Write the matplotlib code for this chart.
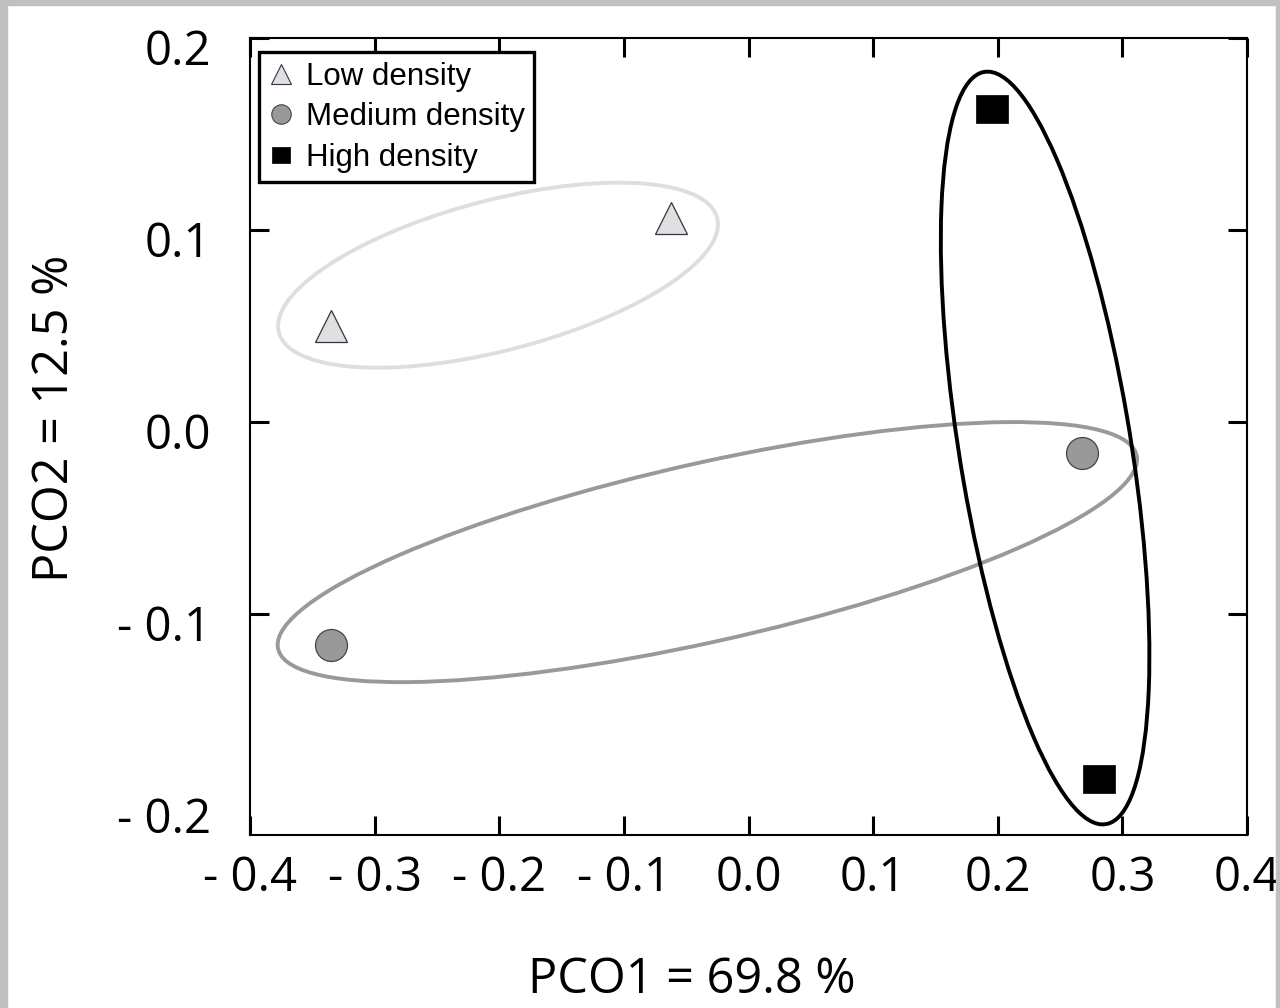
import numpy as np
import matplotlib
matplotlib.use('Agg')
import matplotlib.pyplot as plt
import matplotlib.transforms as mtransforms
from matplotlib.patches import Ellipse, Rectangle
from matplotlib.lines import Line2D

# PCO scores per density group
groups = ['Low density', 'Medium density', 'High density']

low_x = [-0.335, -0.062]
low_y = [0.050, 0.1065]
medium_x = [-0.335, 0.268]
medium_y = [-0.116, -0.016]
high_x = [0.195, 0.281]
high_y = [0.163, -0.186]

# group ellipses: centre and spread (sxx, syy, sxy) in PCO units
ellipse_cx = [-0.201, -0.033, 0.238]
ellipse_cy = [0.0765, -0.0677, -0.0135]
ellipse_sxx = [0.03115, 0.11889, 0.007004]
ellipse_syy = [0.002321, 0.004585, 0.038412]
ellipse_sxy = [0.00467, 0.016647, -0.009051]
ellipse_colors = ['#dedede', '#999999', 'black']

x_ticks = [-0.4, -0.3, -0.2, -0.1, 0.0, 0.1, 0.2, 0.3, 0.4]
x_ticklabels = ['- 0.4', '- 0.3', '- 0.2', '- 0.1', '0.0', '0.1', '0.2', '0.3', '0.4']
y_ticks = [-0.2, -0.1, 0.0, 0.1, 0.2]
y_ticklabels = ['- 0.2', '- 0.1', '0.0', '0.1', '0.2']

tick_font = 'Open Sans'
legend_font = 'Liberation Sans'

# slightly wide box used for the high density points
rect_marker = [(-1, -0.85), (1, -0.85), (1, 0.85), (-1, 0.85), (-1, -0.85)]

fig = plt.figure(figsize=(12.8, 10.08), dpi=100)
fig.patch.set_facecolor('white')
ax = fig.add_axes([250 / 1280, 1 - 835 / 1008, 997 / 1280, 797 / 1008])

# ellipses
for cx, cy, sxx, syy, sxy, col in zip(ellipse_cx, ellipse_cy, ellipse_sxx,
                                      ellipse_syy, ellipse_sxy, ellipse_colors):
    cov = np.array([[sxx, sxy], [sxy, syy]])
    vals, vecs = np.linalg.eigh(cov)
    angle = np.degrees(np.arctan2(vecs[1, 1], vecs[0, 1]))
    e = Ellipse((cx, cy), 2 * np.sqrt(vals[1]), 2 * np.sqrt(vals[0]), angle=angle,
                fill=False, edgecolor=col, linewidth=2.8, zorder=2)
    ax.add_patch(e)

# points
ax.plot(low_x, low_y, ls='none', marker='^', ms=23, mfc='#e0e0e0',
        mec='#333344', mew=0.9, zorder=3)
ax.plot(medium_x, medium_y, ls='none', marker='o', ms=23, mfc='#999999',
        mec='#444444', mew=0.9, zorder=3)
ax.plot(high_x, high_y, ls='none', marker=rect_marker, ms=23, mfc='black',
        mec='black', mew=0.5, zorder=3)

ax.set_xlim(-0.4, 0.4)
ax.set_ylim(-0.215, 0.2)
ax.set_xticks(x_ticks)
ax.set_xticklabels(x_ticklabels, fontfamily=tick_font)
ax.set_yticks(y_ticks)
ax.set_yticklabels(y_ticklabels, fontfamily=tick_font)

ax.tick_params(direction='in', top=True, right=True, length=14, width=2.2,
               labelsize=34)
ax.tick_params(axis='x', pad=14)
ax.tick_params(axis='y', pad=28)

# no tick mark for -0.2 (it sits above the bottom edge)
yt = ax.yaxis.get_major_ticks()
yt[0].tick1line.set_visible(False)
yt[0].tick2line.set_visible(False)

# y labels sit a little below their tick marks
shift = mtransforms.ScaledTranslation(0, -9 / 100, fig.dpi_scale_trans)
for lab in ax.get_yticklabels():
    lab.set_transform(lab.get_transform() + shift)

for sp in ax.spines.values():
    sp.set_linewidth(1.5)
    sp.set_color('black')

ax.set_xlabel('PCO1 = 69.8 %', fontfamily=tick_font, fontsize=35, va='center')
ax.xaxis.set_label_coords(442 / 997, (835 - 980) / 797)
ax.set_ylabel('PCO2 = 12.5 %', fontfamily=tick_font, fontsize=35, va='center')
ax.yaxis.set_label_coords((55 - 250) / 997, (835 - 418) / 797)

# legend
handles = [
    Line2D([], [], ls='none', marker='^', ms=14, mfc='#e0e0e0', mec='#333344', mew=0.8),
    Line2D([], [], ls='none', marker='o', ms=14, mfc='#999999', mec='#444444', mew=0.8),
    Line2D([], [], ls='none', marker=rect_marker, ms=13, mfc='black', mec='black', mew=0.5),
]
leg = ax.legend(handles, groups, loc='upper left', bbox_to_anchor=(0.009, 0.982),
                borderaxespad=0, frameon=True, fancybox=False, edgecolor='black',
                framealpha=1, prop={'family': legend_font, 'size': 22.5},
                handlelength=0.8, handletextpad=0.4, labelspacing=0.34,
                borderpad=0.3)
leg.get_frame().set_linewidth(2.4)

# light grey frame around the figure
frame_col = '#c0c0c0'
fig.add_artist(Rectangle((0, 0), 7 / 1280, 1, transform=fig.transFigure,
                         color=frame_col, zorder=10))
fig.add_artist(Rectangle((0, 1 - 5 / 1008), 1, 5 / 1008, transform=fig.transFigure,
                         color=frame_col, zorder=10))
fig.add_artist(Rectangle((1 - 4 / 1280, 0), 4 / 1280, 1, transform=fig.transFigure,
                         color=frame_col, zorder=10))

fig.savefig('out.png', dpi=100)
